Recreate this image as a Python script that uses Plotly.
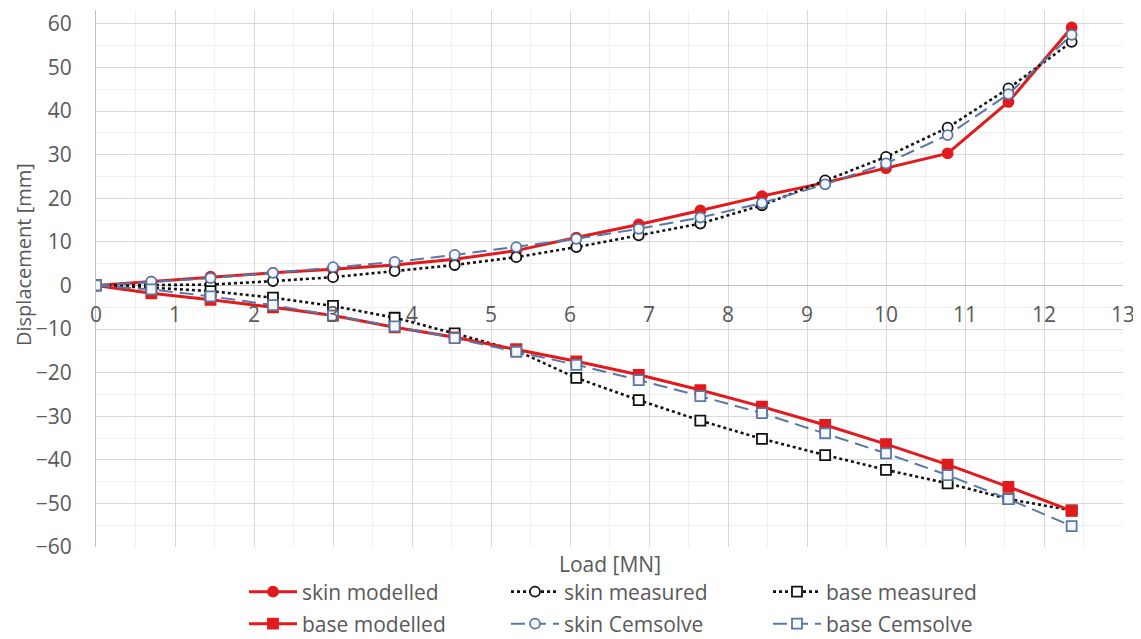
import plotly.graph_objects as go

# ---- data ----
load = [0, 0.70, 1.45, 2.24, 3.00, 3.78, 4.54, 5.32, 6.08, 6.87, 7.65, 8.43, 9.23, 10.00, 10.78, 11.55, 12.35]

skin_modelled = [0, 0.9, 2.0, 2.9, 3.7, 4.7, 6.0, 8.0, 11.0, 14.0, 17.2, 20.5, 23.6, 26.9, 30.3, 42.1, 59.2]
skin_measured = [0, 0.1, 0.2, 1.0, 1.9, 3.3, 4.7, 6.5, 8.8, 11.5, 14.2, 18.4, 24.1, 29.5, 36.2, 45.2, 55.9]
skin_cemsolve = [0, 0.9, 1.7, 2.9, 4.2, 5.4, 7.0, 8.8, 10.7, 13.0, 15.6, 18.9, 23.2, 28.0, 34.5, 43.9, 57.5]
base_modelled = [0, -1.8, -3.3, -5.0, -6.9, -9.6, -11.9, -14.6, -17.4, -20.5, -24.0, -27.8, -32.0, -36.4, -41.1, -46.2, -51.7]
base_measured = [0, -0.5, -1.3, -2.8, -4.7, -7.4, -11.0, -14.9, -21.2, -26.3, -31.0, -35.2, -38.9, -42.3, -45.4, -49.0, -51.6]
base_cemsolve = [0, -0.9, -2.5, -4.5, -6.9, -9.4, -12.1, -15.2, -18.2, -21.7, -25.4, -29.3, -33.9, -38.5, -43.5, -49.0, -55.2]

x_range = [0, 13]
y_range = [-60, 63.2]

RED = "#E31A1C"
BLUE = "#5877A3"
TXT = "#595959"
FONT = "Open Sans"

# the page body has a default 8px margin; size the figure so it fits the window
OFF = 8
W, H = 1141 - OFF, 639 - OFF

fig = go.Figure()

def add(name, y, color, dash, width, symbol, fill, legend):
    fig.add_trace(go.Scatter(
        x=load, y=y, name=name, mode="lines+markers",
        line=dict(color=color, dash=dash, width=width),
        marker=dict(symbol=symbol, size=10, color=fill,
                    line=dict(color=color, width=1.8)),
        legend=legend,
    ))

add("skin modelled", skin_modelled, RED, "solid", 3, "circle", RED, "legend")
add("skin measured", skin_measured, "#111111", "dot", 2.6, "circle", "white", "legend")
add("base measured", base_measured, "#111111", "dot", 2.6, "square", "white", "legend")
add("base modelled", base_modelled, RED, "solid", 3, "square", RED, "legend2")
add("skin Cemsolve", skin_cemsolve, BLUE, "14px,7px", 2, "circle", "#F4F7FB", "legend2")
add("base Cemsolve", base_cemsolve, BLUE, "14px,7px", 2, "square", "#F4F7FB", "legend2")

zero_pos = (0 - y_range[0]) / (y_range[1] - y_range[0])

legend_common = dict(orientation="h", entrywidth=199, entrywidthmode="pixels",
                     xref="container", yref="container", x=(244 - OFF) / W, xanchor="left",
                     yanchor="middle", font=dict(size=21, color=TXT), itemwidth=48,
                     bgcolor="rgba(0,0,0,0)")

fig.update_layout(
    width=W, height=H,
    margin=dict(l=96 - OFF, r=18, t=10 - OFF, b=92),
    paper_bgcolor="white", plot_bgcolor="white",
    font=dict(family=FONT, color=TXT),
    xaxis=dict(
        range=x_range, dtick=1, tick0=0, anchor="free", position=zero_pos,
        automargin=False,
        showgrid=True, gridcolor="#D9D9D9", gridwidth=1,
        minor=dict(dtick=0.5, showgrid=True, gridcolor="#EFEFEF"),
        zeroline=False, showline=False, ticks="",
        tickfont=dict(size=21, color=TXT), ticklabelstandoff=15,
    ),
    yaxis=dict(
        range=y_range, dtick=10, tick0=0, automargin=False,
        showgrid=True, gridcolor="#D9D9D9", gridwidth=1,
        minor=dict(dtick=5, showgrid=True, gridcolor="#EFEFEF"),
        zeroline=True, zerolinecolor="#BFBFBF", zerolinewidth=1,
        showline=True, linecolor="#BFBFBF", linewidth=1, ticks="",
        tickfont=dict(size=21, color=TXT), ticklabelstandoff=19,
    ),
    legend=dict(legend_common, y=1 - (592 - OFF) / H),
    legend2=dict(legend_common, y=1 - (624 - OFF) / H),
    annotations=[
        dict(text="Load [MN]", xref="paper", yref="paper", x=0.5, y=-0.0317,
             xanchor="center", yanchor="middle", showarrow=False,
             font=dict(size=21, color=TXT)),
        dict(text="Displacement [mm]", xref="paper", yref="paper",
             x=-0.0711, y=0.5456, xanchor="center", yanchor="middle",
             textangle=-90, showarrow=False, font=dict(size=20, color=TXT)),
    ],
    showlegend=True,
)

fig.write_html("out.html")
